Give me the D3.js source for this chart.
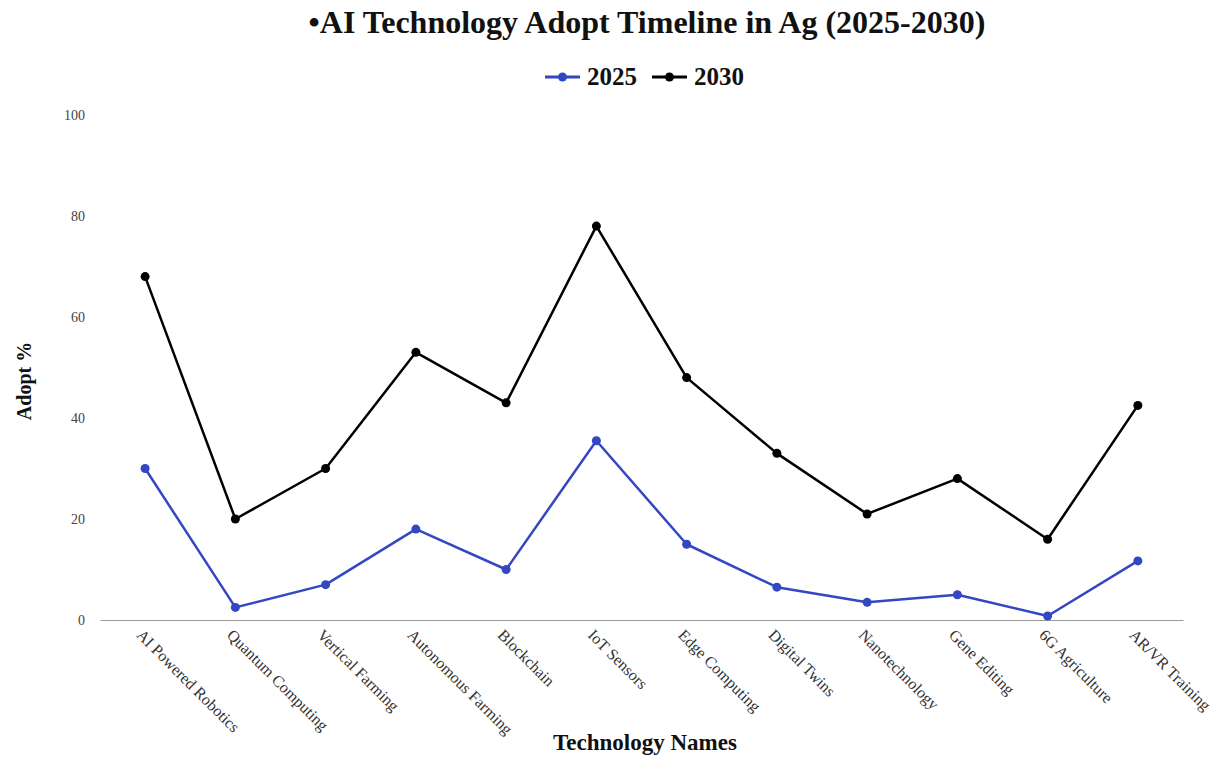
<!DOCTYPE html>
<html>
<head>
<meta charset="utf-8">
<script src="https://cdn.jsdelivr.net/npm/d3@7"></script>
<style>
  body { margin: 0; background: #fff; }
  text { font-family: "Liberation Serif", "DejaVu Serif", serif; }
</style>
</head>
<body>
<div id="chart"></div>
<script>
const categories = ['AI Powered Robotics', 'Quantum Computing', 'Vertical Farming', 'Autonomous Farming',
    'Blockchain', 'IoT Sensors', 'Edge Computing', 'Digital Twins', 'Nanotechnology',
    'Gene Editing', '6G Agriculture', 'AR/VR Training']
const values2025 = [30, 2.5, 7, 18, 10, 35.5, 15, 6.5, 3.5, 5, 0.8, 11.7]
const values2030 = [68, 20, 30, 53, 43, 78, 48, 33, 21, 28, 16, 42.5]
const yTicks = [0, 20, 40, 60, 80, 100]

const series = [
    { name: '2025', values: values2025, color: '#3447c2' },
    { name: '2030', values: values2030, color: '#000000' }
]

const width = 1231
const height = 761
const margin = { top: 115, right: 48, bottom: 141, left: 100 }
const innerWidth = width - margin.left - margin.right
const innerHeight = height - margin.top - margin.bottom

const svg = d3.select('#chart').append('svg')
    .attr('width', width)
    .attr('height', height)

const g = svg.append('g')
    .attr('transform', `translate(${margin.left}, ${margin.top})`)

const xScale = d3.scalePoint()
    .domain(categories)
    .range([0, innerWidth])
    .padding(0.5)

const yScale = d3.scaleLinear()
    .domain([0, 100])
    .range([innerHeight, 0])

// y axis: labels only, no line
const yAxisG = g.append('g')
    .call(d3.axisLeft(yScale).tickValues(yTicks).tickSize(0).tickPadding(15))
yAxisG.select('.domain').remove()
yAxisG.selectAll('text')
    .style('font-size', '14px')
    .style('font-family', '"Liberation Serif", serif')
    .attr('fill', '#444')

// x axis: grey baseline, rotated labels
const xAxisG = g.append('g')
    .attr('transform', `translate(0, ${innerHeight})`)
    .call(d3.axisBottom(xScale).tickSize(0))
xAxisG.select('.domain')
    .attr('stroke', '#999')
    .attr('stroke-width', 1)
xAxisG.selectAll('text')
    .style('font-size', '16px')
    .style('font-family', '"Liberation Serif", serif')
    .attr('fill', '#333')
    .attr('text-anchor', 'start')
    .attr('dy', null)
    .attr('y', 0)
    .attr('transform', 'translate(-10, 16) rotate(45)')

const line = d3.line()
    .x((d, i) => xScale(categories[i]))
    .y(d => yScale(d))

series.forEach(s => {
    g.append('path')
        .datum(s.values)
        .attr('fill', 'none')
        .attr('stroke', s.color)
        .attr('stroke-width', 2.5)
        .attr('stroke-linejoin', 'round')
        .attr('d', line)

    g.selectAll(null)
        .data(s.values)
        .enter()
        .append('circle')
            .attr('cx', (d, i) => xScale(categories[i]))
            .attr('cy', d => yScale(d))
            .attr('r', 4.5)
            .attr('fill', s.color)
})

// title
svg.append('text')
    .attr('x', 647)
    .attr('y', 33)
    .attr('text-anchor', 'middle')
    .style('font-size', '32px')
    .style('font-weight', 'bold')
    .attr('fill', '#111')
    .text('\u2022AI Technology Adopt Timeline in Ag (2025-2030)')

// legend
const legend = svg.append('g').attr('transform', 'translate(545, 77)')
let lx = 0
series.forEach(s => {
    const item = legend.append('g').attr('transform', `translate(${lx}, 0)`)
    item.append('line')
        .attr('x1', 0).attr('x2', 35)
        .attr('y1', 0).attr('y2', 0)
        .attr('stroke', s.color)
        .attr('stroke-width', 3)
    item.append('circle')
        .attr('cx', 17.5).attr('cy', 0).attr('r', 4.5)
        .attr('fill', s.color)
    item.append('text')
        .attr('x', 42)
        .attr('y', 8)
        .style('font-size', '25px')
        .style('font-weight', 'bold')
        .attr('fill', '#111')
        .text(s.name)
    lx += 107
})

// axis titles
svg.append('text')
    .attr('transform', `translate(31, 381) rotate(-90)`)
    .attr('text-anchor', 'middle')
    .style('font-size', '20px')
    .style('font-weight', 'bold')
    .attr('fill', '#111')
    .text('Adopt %')

svg.append('text')
    .attr('x', 645)
    .attr('y', 750)
    .attr('text-anchor', 'middle')
    .style('font-size', '23px')
    .style('font-weight', 'bold')
    .attr('fill', '#111')
    .text('Technology Names')
</script>
</body>
</html>
